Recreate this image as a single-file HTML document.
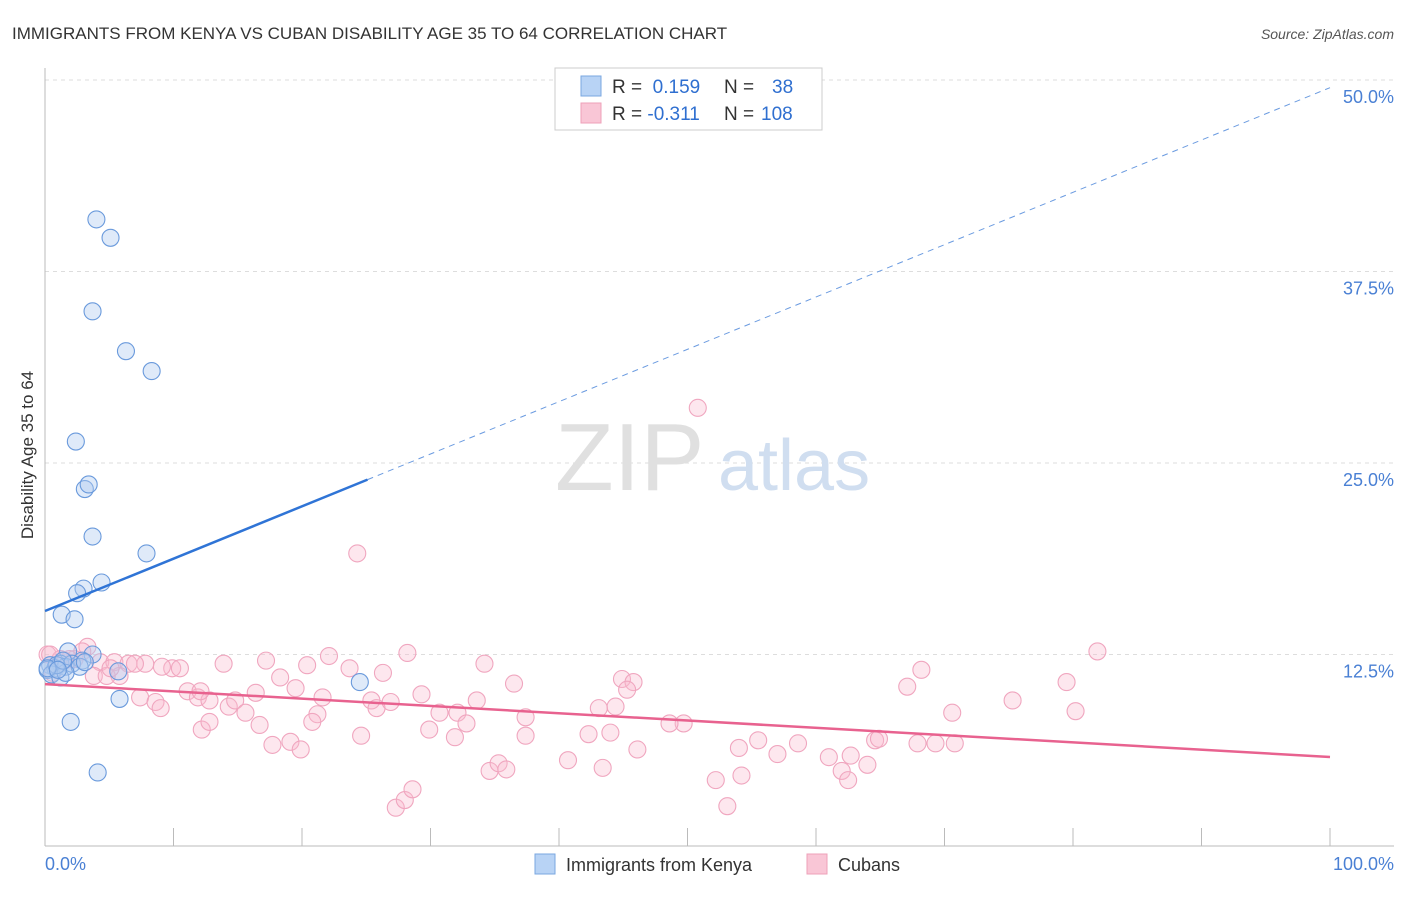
<!DOCTYPE html>
<html><head><meta charset="utf-8"><style>
body{margin:0;background:#fff;font-family:"Liberation Sans",sans-serif;}
svg text{font-family:"Liberation Sans",sans-serif;}
</style></head><body>
<svg width="1406" height="892" xmlns="http://www.w3.org/2000/svg">
<text x="12" y="39" font-size="17" fill="#333">IMMIGRANTS FROM KENYA VS CUBAN DISABILITY AGE 35 TO 64 CORRELATION CHART</text>
<text x="1394" y="39" font-size="14" fill="#555" font-style="italic" text-anchor="end">Source: ZipAtlas.com</text>
<g id="grid"></g>
<text x="555" y="490" font-size="96" fill="#e0e0e0" font-family="Liberation Serif">ZIP</text>
<text x="718" y="490" font-size="72" fill="#d0def0">atlas</text>
<g id="axes"></g>
<g id="pts"></g>
<g id="lines"></g>
<text transform="translate(33,455) rotate(-90)" font-size="17" fill="#333" text-anchor="middle">Disability Age 35 to 64</text>
<text x="45" y="870" font-size="18" fill="#4a80d4">0.0%</text>
<text x="1394" y="870" font-size="18" fill="#4a80d4" text-anchor="end">100.0%</text>
<g>
<rect x="555" y="68" width="267" height="62" fill="#fff" stroke="#ccc"/>
<rect x="581" y="76" width="20" height="20" fill="#b8d3f5" stroke="#7aa7e0"/>
<rect x="581" y="103" width="20" height="20" fill="#f9c6d6" stroke="#eea0b8"/>
<text x="612" y="93" font-size="19" fill="#333">R = <tspan fill="#2f6fd0">&#160;0.159</tspan><tspan x="724">N = </tspan><tspan x="772" fill="#2f6fd0">38</tspan></text>
<text x="612" y="120" font-size="19" fill="#333">R = <tspan fill="#2f6fd0">-0.311</tspan><tspan x="724">N = </tspan><tspan x="761" fill="#2f6fd0">108</tspan></text>
</g>
<g>
<rect x="535" y="854" width="20" height="20" fill="#b8d3f5" stroke="#7aa7e0"/>
<text x="566" y="871" font-size="18" fill="#333">Immigrants from Kenya</text>
<rect x="807" y="854" width="20" height="20" fill="#f9c6d6" stroke="#eea0b8"/>
<text x="838" y="871" font-size="18" fill="#333">Cubans</text>
</g>
</svg>
<script>
const yTicks=[12.5,25,37.5,50];
const yTickLabels=["12.5%","25.0%","37.5%","50.0%"];
const kenyaX=[4.0,5.1,3.7,6.3,8.3,2.4,3.1,3.4,3.7,7.9,4.4,3.0,2.5,1.3,2.3,1.8,3.7,2.9,1.2,0.4,0.8,0.2,1.6,2.1,2.7,0.5,1.2,1.6,5.7,5.8,24.5,2.0,4.1,0.9,1.4,3.1,0.2,1.0];
const kenyaY=[40.9,39.7,34.9,32.3,31.0,26.4,23.3,23.6,20.2,19.1,17.2,16.8,16.5,15.1,14.8,12.7,12.5,12.1,11.9,11.8,11.6,11.5,11.7,11.9,11.7,11.2,11.0,11.3,11.4,9.6,10.7,8.1,4.8,11.8,12.1,12.0,11.6,11.5];
const cubaX=[50.8,24.3,81.9,0.2,3.3,1.2,2.3,4.3,5.4,6.5,7.8,9.9,13.9,17.2,20.4,22.1,23.7,26.3,28.2,34.2,44.9,45.8,68.2,79.5,67.1,75.3,80.2,70.6,3.8,5.8,7.4,8.6,9.0,11.1,11.9,12.8,14.3,14.8,15.6,16.4,18.3,19.5,21.6,21.2,20.8,25.4,25.8,26.9,29.3,30.7,32.1,33.6,32.8,36.5,37.4,37.4,29.9,31.9,24.6,17.7,19.1,19.9,12.2,12.8,16.7,40.7,43.4,44.0,46.1,42.3,43.1,44.4,45.3,49.7,48.6,54.2,53.1,52.2,54.0,55.5,57.0,58.6,61.0,62.0,62.5,62.7,64.0,64.6,64.9,67.9,69.3,70.8,34.6,35.3,35.9,27.3,28.0,28.6,12.1,10.5,4.8,5.1,7.0,9.1,1.9,0.4,2.9,0.6,1.5];
const cubaY=[28.6,19.1,12.7,12.5,13.0,12.2,12.2,12.0,12.0,11.9,11.9,11.6,11.9,12.1,11.8,12.4,11.6,11.3,12.6,11.9,10.9,10.7,11.5,10.7,10.4,9.5,8.8,8.7,11.1,11.1,9.7,9.4,9.0,10.1,9.7,9.5,9.1,9.5,8.7,10.0,11.0,10.3,9.7,8.6,8.1,9.5,9.0,9.4,9.9,8.7,8.7,9.5,8.0,10.6,8.4,7.2,7.6,7.1,7.2,6.6,6.8,6.3,7.6,8.1,7.9,5.6,5.1,7.4,6.3,7.3,9.0,9.1,10.2,8.0,8.0,4.6,2.6,4.3,6.4,6.9,6.0,6.7,5.8,4.9,4.3,5.9,5.3,6.9,7.0,6.7,6.7,6.7,4.9,5.4,5.0,2.5,3.0,3.7,10.1,11.6,11.1,11.6,11.9,11.7,12.2,12.5,12.7,11.3,12.1];
const kenyaTrend=[15.34,49.5];const kenyaSolidEnd=25.1;
const cubaTrend=[10.57,5.81];
const X=v=>45+v*12.85, Y=v=>846-v*15.32;
const NS="http://www.w3.org/2000/svg";
function mk(t,a,p){const e=document.createElementNS(NS,t);for(const k in a)e.setAttribute(k,a[k]);p.appendChild(e);return e;}
const grid=document.getElementById('grid'),axes=document.getElementById('axes'),pts=document.getElementById('pts'),lines=document.getElementById('lines');
yTicks.forEach((t,i)=>{
const l=mk('line',{x1:45,x2:1394,y1:Y(t),y2:Y(t),stroke:'#ddd','stroke-dasharray':'4,4'},grid);


const tx=mk('text',{x:1394,y:Y(t)+23,'font-size':18,fill:'#4a80d4','text-anchor':'end'},grid);
tx.textContent=yTickLabels[i];


});
mk('line',{x1:45,x2:45,y1:68,y2:846,stroke:'#bbb'},axes);
mk('line',{x1:45,x2:1394,y1:846,y2:846,stroke:'#bbb'},axes);
for(let i=0;i<=10;i++){const t=mk('line',{x1:X(i*10),x2:X(i*10),y1:828,y2:846,stroke:'#bbb'},axes);

}
cubaX.forEach((x,i)=>{const c=mk('circle',{cx:X(x),cy:Y(cubaY[i]),r:8.5,fill:'rgba(248,185,205,0.35)',stroke:'#f0a6bf','stroke-width':1.1},pts);

});
kenyaX.forEach((x,i)=>{const c=mk('circle',{cx:X(x),cy:Y(kenyaY[i]),r:8.5,fill:'rgba(175,203,240,0.4)',stroke:'#6a9adc','stroke-width':1.1},pts);

});
const ky=v=>kenyaTrend[0]+(kenyaTrend[1]-kenyaTrend[0])*v/100;
let l1=mk('line',{x1:X(0),y1:Y(ky(0)),x2:X(kenyaSolidEnd),y2:Y(ky(kenyaSolidEnd)),stroke:'#2f74d6','stroke-width':2.5},lines);


let l2=mk('line',{x1:X(kenyaSolidEnd),y1:Y(ky(kenyaSolidEnd)),x2:X(100),y2:Y(ky(100)),stroke:'#6b9be0','stroke-width':1,'stroke-dasharray':'6,5'},lines);


let l3=mk('line',{x1:X(0),y1:Y(cubaTrend[0]),x2:X(100),y2:Y(cubaTrend[1]),stroke:'#e8628f','stroke-width':2.5},lines);


</script>
</body></html>
